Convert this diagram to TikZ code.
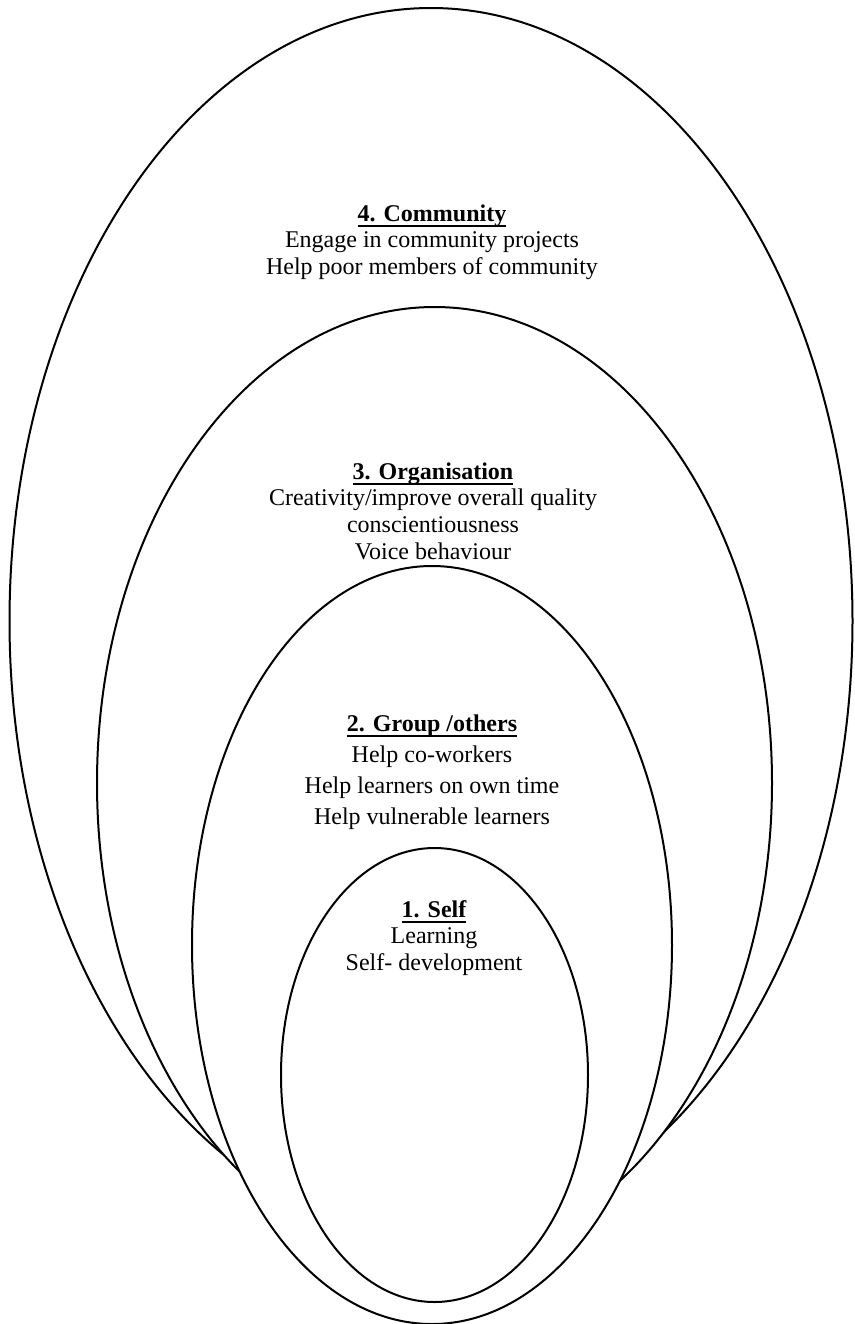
\documentclass[tikz,border=0pt]{standalone}
\usepackage{fontspec}
\setmainfont{Liberation Serif}
\usetikzlibrary{shapes.geometric}

\newsavebox{\headbox}
\newcommand{\ringhead}[1]{\sbox{\headbox}{\bfseries #1}\rlap{\rule[-3pt]{\wd\headbox}{1.3pt}}\usebox{\headbox}}

\begin{document}
\begin{tikzpicture}[
    x=0.5pt, y=-0.5pt,
    ring/.style={draw, ellipse, line width=1pt, fill=white, inner sep=0pt, outer sep=0pt},
    ringtext/.style={align=center, inner sep=0pt, font=\fontsize{12}{13.3}\selectfont},
    widetext/.style={ringtext, font=\fontsize{12}{15.5}\selectfont}
]
\useasboundingbox (0,0) rectangle (855,1324);

% Rings, outermost first so each inner one hides the lower part of the last
\node[ring, minimum width=421.5pt, minimum height=613pt] (community) at (431,621) {};
\node[ring, minimum width=337.5pt, minimum height=476pt] (organisation) at (434.5,783) {};
\node[ring, minimum width=240pt, minimum height=379pt] (group) at (432,945) {};
\node[ring, minimum width=153.5pt, minimum height=227pt] (self) at (434.5,1075) {};

% Texts
\node[ringtext] (communitytext) at (432,242) {\ringhead{4. Community}\\Engage in community projects\\Help poor members of community};
\node[ringtext] (organisationtext) at (433,511) {\ringhead{3. Organisation}\\Creativity/improve overall quality\\conscientiousness\\Voice behaviour};
\node[widetext] (grouptext) at (432,772) {\ringhead{2. Group /others}\\Help co-workers\\Help learners on own time\\Help vulnerable learners};
\node[ringtext] (selftext) at (434,938) {\ringhead{1. Self}\\Learning\\Self- development};

\end{tikzpicture}
\end{document}
